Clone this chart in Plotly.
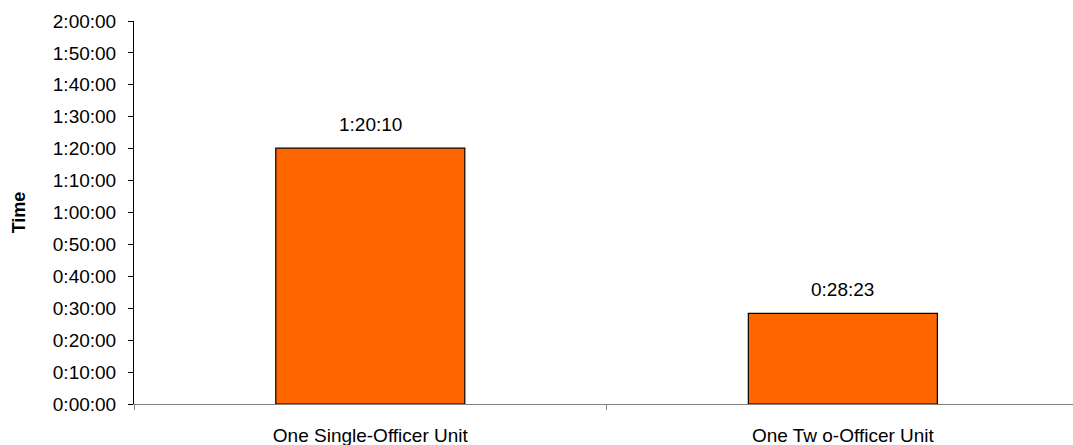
import plotly.graph_objects as go

categories = ["One Single-Officer Unit", "One Two-Officer Unit"]
category_labels = ["One Single-Officer Unit", "One Tw o-Officer Unit"]
value_labels = ["1:20:10", "0:28:23"]
tick_labels = ["0:00:00", "0:10:00", "0:20:00", "0:30:00", "0:40:00", "0:50:00",
               "1:00:00", "1:10:00", "1:20:00", "1:30:00", "1:40:00", "1:50:00", "2:00:00"]


def to_seconds(s):
    h, m, sec = (int(p) for p in s.split(":"))
    return h * 3600 + m * 60 + sec


values = [to_seconds(v) for v in value_labels]
tick_vals = [to_seconds(t) for t in tick_labels]

FONT = "Liberation Sans, Arial, sans-serif"
FS = 19

fig = go.Figure()
fig.add_trace(go.Bar(
    x=categories,
    y=values,
    width=0.4,
    marker=dict(color="#FF6600", line=dict(color="#000000", width=1.2)),
    hoverinfo="skip",
))

for c, v, lab in zip(categories, values, value_labels):
    fig.add_annotation(x=c, y=v, text=lab, showarrow=False, yshift=24,
                       font=dict(family=FONT, size=FS, color="#000000"))

fig.update_layout(
    width=1073, height=445,
    margin=dict(l=134, r=0, t=21, b=41),
    paper_bgcolor="white", plot_bgcolor="white",
    showlegend=False,
    bargap=0.6,
    font=dict(family=FONT, size=FS, color="#000000"),
)
fig.update_xaxes(
    range=[-0.5, 1.487],
    tickmode="array", tickvals=categories, ticktext=category_labels,
    tickson="boundaries", ticks="outside", ticklen=5, tickcolor="#808080",
    showline=True, linecolor="#808080", linewidth=1,
    showgrid=False, zeroline=False,
    ticklabelstandoff=14,
    automargin=False,
)
fig.update_yaxes(
    range=[0, 7200],
    tickmode="array", tickvals=tick_vals, ticktext=tick_labels,
    ticks="outside", ticklen=5, tickcolor="#000000",
    showline=True, linecolor="#000000", linewidth=1,
    showgrid=False, zeroline=False,
    ticklabelstandoff=8,
    automargin=False,
    title=dict(text="<b>Time</b>", font=dict(family=FONT, size=18), standoff=22),
)

fig.write_html(
    "out.html",
    config={"displayModeBar": False},
    post_script="document.body.style.margin='0';document.body.style.overflow='hidden';",
)
